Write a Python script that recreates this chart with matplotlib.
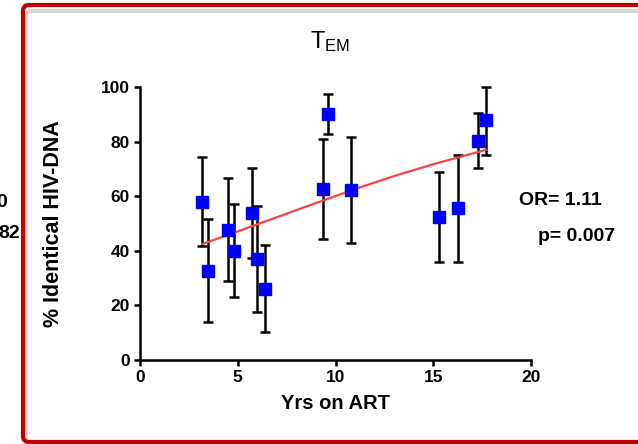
import matplotlib.pyplot as plt
from matplotlib.patches import FancyBboxPatch

plt.rcParams['font.family'] = ['Liberation Sans', 'DejaVu Sans']

# data
yrs = [3.19, 3.50, 4.52, 4.79, 5.71, 5.98, 6.39, 9.38, 9.62, 10.79, 15.29, 16.28, 17.31, 17.68]
pct = [58.0, 32.7, 47.6, 40.0, 53.7, 36.9, 26.1, 62.6, 90.0, 62.3, 52.5, 55.8, 80.3, 87.9]
err_hi = [74.2, 51.6, 66.5, 57.1, 70.4, 56.4, 42.1, 81.0, 97.4, 81.7, 68.7, 75.1, 90.3, 100.1]
err_lo = [41.9, 13.8, 28.9, 23.0, 37.2, 17.4, 10.1, 44.3, 82.9, 42.7, 36.0, 36.0, 70.4, 75.0]

# logistic fit curve, read along its length
fit_x = [3.2, 5, 7, 9, 11, 13, 15, 17.7]
fit_y = [42.5, 47.1, 52.3, 57.5, 62.6, 67.4, 71.7, 77.0]

fig = plt.figure(figsize=(6.38, 4.44), dpi=100)

# red panel frame with a faint shadow
shadow = FancyBboxPatch((0.26, 0.0), 7.0, 4.33, boxstyle="round,pad=0,rounding_size=0.06",
                        transform=fig.dpi_scale_trans, fill=False, ec='#d8d8d8', lw=3)
frame = FancyBboxPatch((0.23, 0.02), 7.0, 4.37, boxstyle="round,pad=0,rounding_size=0.06",
                       transform=fig.dpi_scale_trans, fill=False, ec='#c00000', lw=3)
fig.patches.extend([shadow, frame])

ax = fig.add_axes([140 / 638, 84 / 444, 391 / 638, 273 / 444])

lo = [p - l for p, l in zip(pct, err_lo)]
hi = [h - p for p, h in zip(pct, err_hi)]
ax.errorbar(yrs, pct, yerr=[lo, hi], fmt='none', ecolor='black', elinewidth=1.8,
            capsize=3.6, capthick=1.8, clip_on=False, zorder=2)
ax.plot(fit_x, fit_y, color='#ff4040', lw=1.6, zorder=3)
ax.plot(yrs, pct, 's', color='#0000ff', ms=8.5, clip_on=False, zorder=4)

ax.set_xlim(0, 20)
ax.set_ylim(0, 100)
ax.set_xticks([0, 5, 10, 15, 20])
ax.set_yticks([0, 20, 40, 60, 80, 100])
for s in ['top', 'right']:
    ax.spines[s].set_visible(False)
for s in ['left', 'bottom']:
    ax.spines[s].set_linewidth(1.8)
ax.tick_params(width=1.8, length=4.5, labelsize=12.5, pad=3)
for lab in ax.get_xticklabels() + ax.get_yticklabels():
    lab.set_fontweight('bold')

ax.set_xlabel('Yrs on ART', fontsize=14.5, fontweight='bold', labelpad=6)
ax.set_ylabel('% Identical HIV-DNA', fontsize=15.5, fontweight='bold', labelpad=26)

fig.text(330 / 638, 1 - 42 / 444, r'$\mathregular{T_{EM}}$', fontsize=17, ha='center', va='center')

fig.text(519 / 638, 1 - 200 / 444, 'OR= 1.11', fontsize=14, fontweight='bold', ha='left', va='center')
fig.text(538 / 638, 1 - 236 / 444, 'p= 0.007', fontsize=14, fontweight='bold', ha='left', va='center')

# text cut off from the neighbouring panel
fig.text(7 / 638, 1 - 202 / 444, '0', fontsize=14, fontweight='bold', ha='right', va='center')
fig.text(20 / 638, 1 - 234 / 444, '82', fontsize=14, fontweight='bold', ha='right', va='center')

fig.savefig('out.png', dpi=100)
